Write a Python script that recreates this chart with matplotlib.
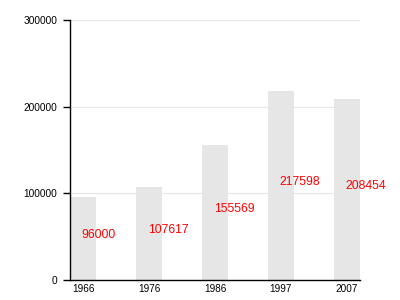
import numpy as np
import matplotlib
matplotlib.use('Agg')
import matplotlib.pyplot as plt

plt.rcParams['font.family'] = ['Liberation Sans', 'DejaVu Sans']

years = ['1966', '1976', '1986', '1997', '2007']
values = [96000, 107617, 155569, 217598, 208454]
y_ticks = [0, 100000, 200000, 300000]

fig = plt.figure(figsize=(4, 3), dpi=100)
ax = fig.add_axes([0.175, 0.0667, 0.725, 0.8667])

x = np.arange(len(years))
ax.bar(x, values, width=0.4, color='#e6e6e6', zorder=1)

# light grid drawn over the bars
for t in y_ticks[1:]:
    ax.axhline(t, color='#e6e6e6', linewidth=0.8, zorder=2)

# value labels start at the bar centre, about halfway up
for xi, v in zip(x, values):
    ax.annotate(str(v), (xi, v / 2), xytext=(-1, 2.5), textcoords='offset points',
                color='red', fontsize=8.7, ha='left', va='center', zorder=3)

ax.set_xlim(-0.2, 4.2)
ax.set_ylim(0, 300000)
ax.set_xticks(x)
ax.set_xticklabels(years, fontsize=7.2)
ax.set_yticks(y_ticks)
ax.set_yticklabels([str(t) for t in y_ticks], fontsize=7.3)
ax.tick_params(axis='x', length=0, pad=3)
ax.tick_params(axis='y', length=5, width=1, pad=4)

for s in ['top', 'right']:
    ax.spines[s].set_visible(False)
ax.spines['left'].set_linewidth(1)
ax.spines['bottom'].set_linewidth(1)

fig.savefig('out.png', dpi=100)
